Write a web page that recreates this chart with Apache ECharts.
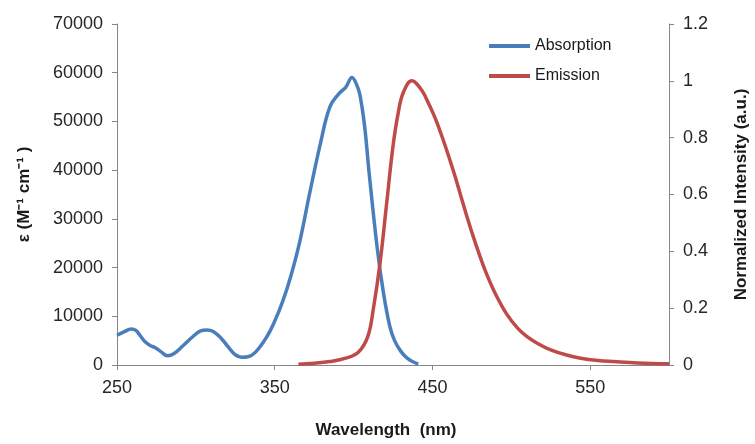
<!DOCTYPE html>
<html>
<head>
<meta charset="utf-8">
<script src="https://cdn.jsdelivr.net/npm/echarts@6/dist/echarts.min.js"></script>
<style>
  html, body { margin: 0; padding: 0; background: #fff; }
  #chart { width: 755px; height: 444px; }
</style>
</head>
<body>
<div id="chart"></div>
<script>
// absorption spectrum (left axis, M-1 cm-1)
const absWavelength = [250, 255, 259, 262, 265, 268, 271, 274, 278, 282, 286, 292, 298, 303, 307, 311, 316, 321, 325, 329, 333, 338, 345, 350, 355, 360, 366, 372, 379, 385, 391, 395, 399, 402, 404, 407, 410, 415, 419, 423, 426, 430, 434, 438, 441]
const absValues = [6100, 6900, 7400, 7100, 5900, 4700, 4000, 3600, 2700, 1900, 2300, 4000, 5800, 7000, 7200, 6900, 5500, 3500, 2100, 1600, 1700, 2700, 5800, 9000, 13000, 18000, 25500, 35000, 45500, 53000, 55800, 57000, 59000, 57500, 55500, 49000, 39000, 24000, 14700, 7900, 5000, 2800, 1400, 600, 200]

// emission spectrum (right axis, normalized)
const emWavelength = [365, 375, 385, 395, 403, 409, 412.6, 416.8, 421, 425, 428.4, 431.6, 437, 440, 444, 448, 452, 456, 460, 464, 468, 472, 476, 480, 484, 490, 497, 504, 510, 517, 525, 535, 544, 555, 565, 580, 600]
const emValues = [0.003, 0.006, 0.012, 0.024, 0.045, 0.1, 0.2, 0.36, 0.57, 0.77, 0.89, 0.96, 1.0, 0.99, 0.96, 0.915, 0.865, 0.805, 0.74, 0.67, 0.595, 0.52, 0.45, 0.385, 0.325, 0.25, 0.18, 0.13, 0.1, 0.075, 0.053, 0.035, 0.024, 0.016, 0.012, 0.007, 0.004]

const xTicks = [250, 350, 450, 550]
const seriesNames = ['Absorption', 'Emission']

const chart = echarts.init(document.getElementById('chart'))

const axisColor = '#868686'
const labelFont = {
  fontFamily: 'Liberation Sans',
  fontSize: 18,
  color: '#262626'
}
const nameFont = {
  fontFamily: 'Liberation Sans',
  fontSize: 17,
  fontWeight: 'bold',
  color: '#1a1a1a'
}

let option = {
  animation: false,
  color: ['#4a7ebb', '#be4b48'],
  grid: {
    left: 117,
    right: 86,
    top: 24,
    bottom: 79,
    outerBoundsMode: 'none'
  },
  legend: {
    orient: 'vertical',
    left: 484,
    top: 33,
    icon: 'rect',
    itemWidth: 41,
    itemHeight: 4,
    itemGap: 14,
    textStyle: {
      fontFamily: 'Liberation Sans',
      fontSize: 16,
      color: '#1a1a1a'
    },
    data: seriesNames
  },
  xAxis: {
    type: 'value',
    min: 250,
    max: 600,
    name: 'Wavelength  (nm)',
    nameLocation: 'middle',
    nameGap: 57,
    nameTextStyle: Object.assign({ padding: [0, 14, 0, 0] }, nameFont),
    axisLine: { lineStyle: { color: axisColor } },
    axisTick: { show: true, length: 5, customValues: xTicks, lineStyle: { color: axisColor } },
    axisLabel: Object.assign({ customValues: xTicks, margin: 14 }, labelFont),
    splitLine: { show: false }
  },
  yAxis: [
    {
      type: 'value',
      min: 0,
      max: 70000,
      interval: 10000,
      name: 'ε (M⁻¹ cm⁻¹ )',
      nameLocation: 'middle',
      nameRotate: 90,
      nameGap: 84,
      nameTextStyle: nameFont,
      axisLine: { show: true, lineStyle: { color: axisColor } },
      axisTick: { show: true, length: 5, lineStyle: { color: axisColor } },
      axisLabel: Object.assign({
        margin: 14,
        formatter: (v) => String(v)
      }, labelFont),
      splitLine: { show: false }
    },
    {
      type: 'value',
      min: 0,
      max: 1.2,
      interval: 0.2,
      position: 'right',
      name: 'Normalized Intensity (a.u.)',
      nameLocation: 'middle',
      nameRotate: 90,
      nameGap: 64,
      nameTextStyle: nameFont,
      axisLine: { show: true, lineStyle: { color: axisColor } },
      axisTick: { show: true, length: 5, lineStyle: { color: axisColor } },
      axisLabel: Object.assign({
        margin: 14,
        formatter: (v) => String(+v.toFixed(1))
      }, labelFont),
      splitLine: { show: false }
    }
  ],
  series: [
    {
      name: seriesNames[0],
      type: 'line',
      yAxisIndex: 0,
      symbol: 'none',
      smooth: 0.4,
      lineStyle: { width: 3.5 },
      data: absWavelength.map((w, i) => [w, absValues[i]])
    },
    {
      name: seriesNames[1],
      type: 'line',
      yAxisIndex: 1,
      symbol: 'none',
      smooth: 0.4,
      lineStyle: { width: 3.5 },
      data: emWavelength.map((w, i) => [w, emValues[i]])
    }
  ]
}

option && chart.setOption(option)
</script>
</body>
</html>
